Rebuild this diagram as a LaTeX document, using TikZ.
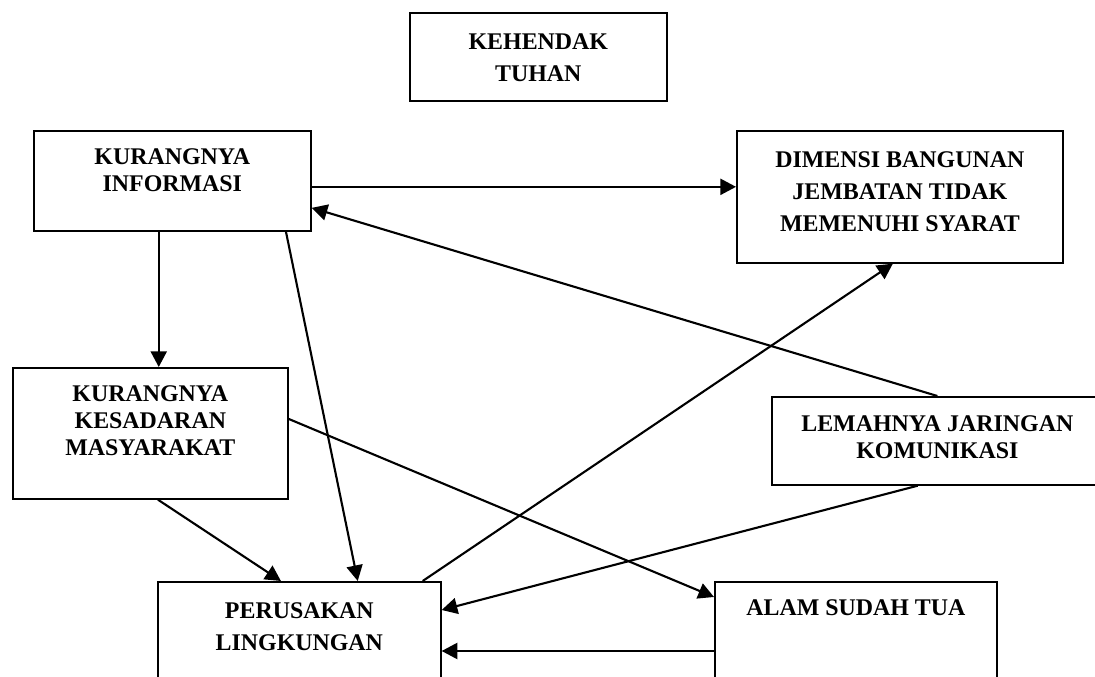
\documentclass[tikz,border=0pt]{standalone}
\usepackage{fontspec}
\setmainfont{Liberation Serif}
\usetikzlibrary{arrows.meta}
\newcommand{\boxlines}[1]{\begin{tabular}[t]{@{}c@{}}#1\end{tabular}}

\begin{document}
\begin{tikzpicture}[
        box/.style={draw, line width=1.2pt, inner sep=0pt, anchor=north west, font=\bfseries\fontsize{17pt}{19.1pt}\selectfont},
        roomy/.style={font=\bfseries\fontsize{17pt}{22.7pt}\selectfont},
        arr/.style={line width=1.5pt, -{Triangle[length=3.9mm,width=4mm]}}]
    \useasboundingbox (0,0) rectangle (27.375,16.925);
    \node[box,roomy,minimum width=6.425cm,text height=0.925cm,text depth=1.275cm] (god) at (10.225,16.625) {\boxlines{KEHENDAK\\TUHAN}};
    \node[box,minimum width=6.925cm,text height=0.85cm,text depth=1.65cm] (info) at (0.825,13.675) {\boxlines{KURANGNYA\\INFORMASI}};
    \node[box,roomy,minimum width=8.15cm,text height=0.925cm,text depth=2.375cm] (dim) at (18.4,13.675) {\boxlines{DIMENSI BANGUNAN\\JEMBATAN TIDAK\\MEMENUHI SYARAT}};
    \node[box,minimum width=6.875cm,text height=0.85cm,text depth=2.425cm] (aware) at (0.3,7.75) {\boxlines{KURANGNYA\\KESADARAN\\MASYARAKAT}};
    \node[box,minimum width=8.275cm,text height=0.875cm,text depth=1.325cm] (comm) at (19.275,7.025) {\boxlines{LEMAHNYA JARINGAN\\KOMUNIKASI}};
    \node[box,roomy,minimum width=7.075cm,text height=0.925cm,text depth=2.05cm] (harm) at (3.925,2.4) {\boxlines{PERUSAKAN\\LINGKUNGAN}};
    \node[box,minimum width=7.05cm,text height=0.85cm,text depth=2.125cm] (old) at (17.85,2.4) {\boxlines{ALAM SUDAH TUA}};

    \draw[arr] ([xshift=-0.34cm]info.south) -- ([xshift=-0.34cm]info.south |- aware.north);
    \draw[arr] ([yshift=-0.15cm]info.east) -- ([yshift=-0.15cm]info.east -| dim.west);
    \draw[arr] (comm.north) -- ([yshift=-0.675cm]info.east);
    \draw[arr] ([xshift=2.84cm]info.south) -- ([xshift=1.46cm]harm.north);
    \draw[arr] ([xshift=0.19cm]aware.south) -- ([xshift=-0.46cm]harm.north);
    \draw[arr] ([yshift=0.36cm]aware.east) -- ([yshift=-0.4cm]old.north west);
    \draw[arr] ([xshift=-0.475cm]harm.north east) -- ([xshift=-0.175cm]dim.south);
    \draw[arr] ([xshift=-0.49cm]comm.south) -- ([yshift=-0.725cm]harm.north east);
    \draw[arr] ([yshift=-1.75cm]old.north west) -- ([yshift=-1.75cm]harm.north east);
\end{tikzpicture}
\end{document}
